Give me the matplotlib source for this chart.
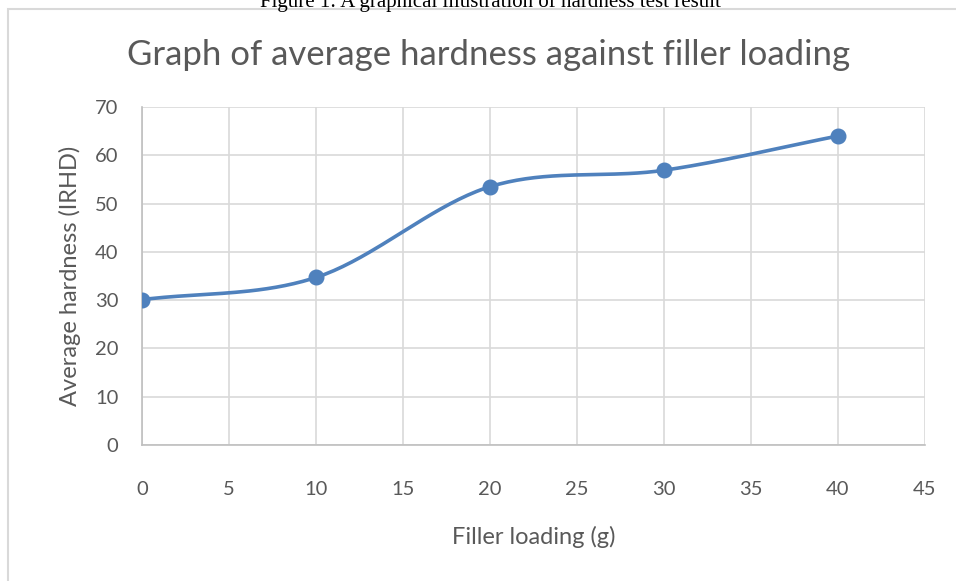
import numpy as np
import matplotlib
matplotlib.use("Agg")
from matplotlib import pyplot as plt
from matplotlib.patches import Rectangle

plt.rcParams['font.family'] = ['Lato', 'DejaVu Sans']

# 数据
filler = [0, 10, 20, 30, 40]
hardness = [30.1, 34.7, 53.5, 56.9, 64.0]
x_ticks = [0, 5, 10, 15, 20, 25, 30, 35, 40, 45]
y_ticks = [0, 10, 20, 30, 40, 50, 60, 70]

grey = '#595959'
blue = '#4f81bd'


def smooth(xs, ys, n=40):
    # Excel 风格的平滑曲线 (Catmull-Rom)
    px = np.array(xs, float)
    py = np.array(ys, float)
    px = np.concatenate([[2 * px[0] - px[1]], px, [2 * px[-1] - px[-2]]])
    py = np.concatenate([[2 * py[0] - py[1]], py, [2 * py[-1] - py[-2]]])
    out_x, out_y = [], []
    t = np.linspace(0, 1, n)
    for i in range(1, len(px) - 2):
        for p, out in ((px, out_x), (py, out_y)):
            p0, p1, p2, p3 = p[i - 1], p[i], p[i + 1], p[i + 2]
            c1 = p1 + (p2 - p0) / 6
            c2 = p2 - (p3 - p1) / 6
            out.extend((1 - t) ** 3 * p1 + 3 * (1 - t) ** 2 * t * c1
                       + 3 * (1 - t) * t ** 2 * c2 + t ** 3 * p2)
    return out_x, out_y


fig = plt.figure(figsize=(9.56, 5.81), dpi=100)
ax = fig.add_axes([142 / 956, 1 - 445 / 581, 783 / 956, 338 / 581])

# 图表外框
fig.patches.append(Rectangle((8 / 956, -0.1), 1.2, 1 - 8.5 / 581 + 0.1,
                             transform=fig.transFigure, fill=False,
                             edgecolor='#d9d9d9', linewidth=1.5))
fig.text(490 / 956, 1 - 2 / 581,
         'Figure 1: A graphical illustration of hardness test result',
         family='Liberation Serif', fontsize=15, color='black',
         ha='center', va='center')

sx, sy = smooth(filler, hardness)
ax.plot(sx, sy, color=blue, linewidth=2.6, solid_capstyle='round', zorder=3)
ax.plot(filler, hardness, 'o', color=blue, markersize=10.5, zorder=4)

ax.set_xlim(0, 45)
ax.set_ylim(0, 70)
ax.set_xticks(x_ticks)
ax.set_yticks(y_ticks)
ax.grid(True, color='#d9d9d9', linewidth=1.2)
ax.set_axisbelow(True)
for s in ['top', 'right']:
    ax.spines[s].set_visible(False)
for s in ['left', 'bottom']:
    ax.spines[s].set_color('#bfbfbf')
    ax.spines[s].set_linewidth(1.2)
ax.tick_params(length=0, labelsize=14.5, labelcolor=grey)
ax.tick_params(axis='x', pad=26)
ax.tick_params(axis='y', pad=17)

fig.text(489 / 956, 1 - 55 / 581,
         'Graph of average hardness against filler loading',
         fontsize=25, color=grey, ha='center', va='center')
ax.set_xlabel('Filler loading (g)', fontsize=17, color=grey, labelpad=20)
ax.set_ylabel('Average hardness (IRHD)', fontsize=17, color=grey, labelpad=10)

fig.savefig('out.png', dpi=100)
